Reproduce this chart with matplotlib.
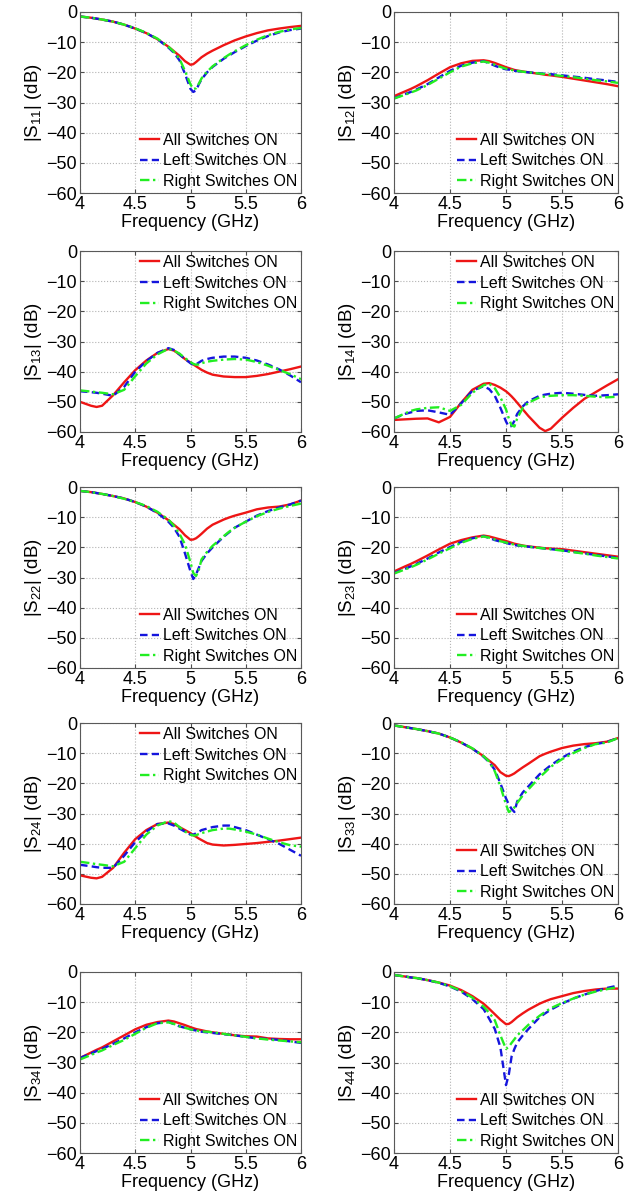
import matplotlib
matplotlib.use('Agg')
import matplotlib.pyplot as plt

plt.rcParams['font.family'] = ['Liberation Sans', 'DejaVu Sans']
plt.rcParams['mathtext.fontset'] = 'custom'
plt.rcParams['mathtext.rm'] = 'Liberation Sans'
plt.rcParams['mathtext.it'] = 'Liberation Sans'
plt.rcParams['mathtext.default'] = 'regular'

# frequency points (GHz) shared by every curve
freq = [4.0, 4.1, 4.15, 4.2, 4.3, 4.4, 4.5, 4.6, 4.7, 4.8, 4.85, 4.9, 4.95, 5.0, 5.025,
        5.05, 5.075, 5.1, 5.15, 5.2, 5.3, 5.35, 5.4, 5.5, 5.6, 5.7, 5.8, 5.9, 6.0]

s11_all = [-1.5, -1.9, -2.2, -2.5, -3.2, -4.2, -5.5, -7.0, -9.0, -11.5, -13.0, -14.5, -16.3, -17.5, -17.3,
           -16.6, -15.8, -15.0, -13.8, -12.8, -11.0, -10.2, -9.4, -8.1, -7.0, -6.1, -5.5, -5.0, -4.6]
s11_left = [-1.5, -1.9, -2.2, -2.5, -3.2, -4.2, -5.5, -7.0, -9.0, -11.8, -13.5, -16.0, -20.5, -25.5, -26.5,
            -26.0, -24.0, -22.3, -20.0, -18.2, -15.5, -14.4, -13.3, -11.3, -9.5, -8.0, -6.8, -6.0, -5.5]
s11_right = [-1.5, -1.9, -2.2, -2.5, -3.2, -4.2, -5.4, -6.9, -8.8, -11.5, -13.2, -15.5, -19.5, -24.0, -25.5,
             -25.3, -23.8, -22.0, -19.8, -18.0, -15.3, -14.1, -13.0, -11.0, -9.2, -7.7, -6.6, -5.8, -5.3]

s12_all = [-27.9, -26.3, -25.5, -24.6, -22.6, -20.4, -18.3, -17.0, -16.2, -16.0, -16.3, -16.9, -17.6, -18.3, -18.6,
           -18.9, -19.2, -19.4, -19.7, -20.0, -20.5, -20.8, -21.0, -21.5, -22.1, -22.7, -23.3, -23.9, -24.6]
s12_left = [-28.6, -27.2, -26.5, -25.7, -23.9, -21.7, -19.5, -17.8, -16.8, -16.3, -17.0, -17.8, -18.5, -19.0, -19.1,
            -19.3, -19.5, -19.6, -19.8, -20.0, -20.3, -20.5, -20.6, -21.0, -21.4, -21.8, -22.3, -22.7, -23.2]
s12_right = [-28.7, -27.4, -26.7, -26.0, -24.2, -22.1, -20.0, -18.1, -17.0, -16.4, -16.8, -17.5, -18.2, -18.8, -19.0,
             -19.2, -19.4, -19.5, -19.8, -20.0, -20.4, -20.6, -20.8, -21.2, -21.6, -22.1, -22.6, -23.0, -23.5]

s13_all = [-50.0, -51.3, -51.7, -51.3, -47.8, -43.5, -39.5, -36.3, -33.8, -32.5, -33.0, -34.3, -35.8, -37.0, -37.6,
           -38.2, -38.8, -39.4, -40.3, -41.0, -41.6, -41.7, -41.8, -41.8, -41.4, -40.8, -40.0, -39.2, -38.3]
s13_left = [-46.5, -46.8, -47.0, -47.3, -48.0, -45.0, -40.0, -36.5, -33.8, -32.2, -32.8, -34.3, -35.8, -37.2, -37.8,
            -37.6, -37.0, -36.4, -35.8, -35.4, -35.0, -35.0, -35.0, -35.4, -36.3, -37.6, -39.2, -41.2, -43.5]
s13_right = [-46.2, -46.6, -46.8, -47.0, -47.5, -46.0, -41.5, -37.3, -34.3, -32.4, -33.0, -34.0, -35.5, -36.8, -37.4,
             -37.7, -37.6, -37.2, -36.7, -36.4, -36.0, -35.9, -35.8, -36.0, -36.8, -38.0, -39.4, -40.8, -42.5]

s14_all = [-56.0, -55.8, -55.7, -55.6, -55.5, -56.8, -55.0, -50.3, -46.0, -44.0, -43.8, -44.4, -45.3, -46.5, -47.3,
           -48.2, -49.2, -50.3, -52.5, -54.7, -58.6, -59.7, -58.9, -55.3, -52.0, -49.0, -46.8, -44.6, -42.5]
s14_left = [-55.5, -54.0, -53.5, -53.0, -52.8, -53.5, -54.3, -50.5, -46.3, -44.8, -45.8, -48.0, -52.0, -56.5, -58.3,
            -58.0, -56.3, -54.0, -51.5, -49.8, -48.0, -47.6, -47.3, -47.0, -47.3, -47.7, -48.0, -47.8, -47.5]
s14_right = [-55.5, -53.8, -53.0, -52.5, -52.0, -51.8, -53.0, -51.0, -47.0, -44.5, -44.0, -45.5, -48.5, -52.5, -55.5,
             -57.8, -58.2, -55.5, -52.0, -50.3, -48.5, -48.2, -48.0, -47.8, -47.8, -48.0, -48.3, -48.5, -48.3]

s22_all = [-1.3, -1.7, -2.0, -2.3, -3.0, -3.8, -5.0, -6.5, -8.5, -11.0, -12.5, -14.0, -16.0, -17.5, -17.4,
           -17.0, -16.3, -15.5, -13.8, -12.5, -10.8, -10.1, -9.5, -8.5, -7.4, -6.8, -6.5, -5.8, -4.5]
s22_left = [-1.3, -1.7, -2.0, -2.3, -3.0, -3.8, -5.0, -6.5, -8.6, -11.5, -13.5, -16.5, -22.0, -28.0, -30.5,
            -29.0, -26.8, -24.5, -22.0, -20.0, -16.5, -15.0, -13.5, -11.5, -9.5, -8.0, -6.8, -5.8, -4.5]
s22_right = [-1.3, -1.7, -2.0, -2.3, -3.0, -3.9, -5.0, -6.3, -8.2, -10.8, -12.8, -15.5, -19.0, -25.0, -28.5,
             -29.5, -27.5, -24.0, -21.5, -19.5, -16.3, -14.8, -13.5, -11.5, -9.7, -8.3, -7.2, -6.3, -5.5]

s23_all = [-28.0, -26.3, -25.5, -24.6, -22.7, -20.7, -18.8, -17.6, -16.7, -16.1, -16.4, -16.9, -17.4, -17.9, -18.2,
           -18.5, -18.8, -19.0, -19.4, -19.7, -20.1, -20.3, -20.4, -20.6, -21.1, -21.6, -22.1, -22.6, -23.1]
s23_left = [-28.5, -27.1, -26.3, -25.5, -23.7, -21.7, -19.9, -18.2, -17.0, -16.3, -16.9, -17.6, -18.1, -18.5, -18.8,
            -19.0, -19.2, -19.4, -19.6, -19.8, -20.2, -20.4, -20.6, -21.0, -21.5, -22.0, -22.5, -23.0, -23.5]
s23_right = [-28.7, -27.3, -26.6, -25.8, -24.0, -22.1, -20.3, -18.5, -17.2, -16.4, -16.8, -17.4, -18.0, -18.4, -18.7,
             -18.9, -19.1, -19.3, -19.5, -19.8, -20.2, -20.4, -20.6, -21.1, -21.6, -22.1, -22.7, -23.2, -23.7]

s24_all = [-50.5, -51.3, -51.5, -51.0, -48.0, -43.0, -38.5, -35.5, -33.5, -33.0, -33.5, -34.5, -35.5, -36.5, -37.2,
           -37.7, -38.3, -38.8, -39.8, -40.3, -40.6, -40.5, -40.4, -40.1, -39.8, -39.4, -39.0, -38.5, -38.0]
s24_left = [-47.0, -47.5, -47.8, -48.0, -48.0, -44.0, -39.5, -36.0, -33.5, -33.3, -34.0, -35.0, -36.0, -37.0, -37.0,
            -36.6, -36.1, -35.5, -35.0, -34.5, -34.0, -34.0, -34.5, -35.5, -37.0, -38.5, -40.0, -42.0, -44.0]
s24_right = [-46.0, -46.5, -46.8, -47.0, -47.5, -46.0, -41.5, -37.0, -34.0, -32.5, -33.0, -34.5, -36.0, -37.0, -37.3,
             -37.2, -36.8, -36.5, -36.0, -35.5, -35.0, -35.0, -35.3, -36.0, -37.0, -38.3, -39.5, -40.5, -41.0]

s33_all = [-0.8, -1.4, -1.7, -2.0, -2.7, -3.5, -4.8, -6.5, -8.5, -11.0, -12.5, -14.0, -16.3, -17.5, -17.6,
           -17.2, -16.7, -16.0, -14.7, -13.5, -11.0, -10.2, -9.5, -8.3, -7.5, -7.0, -6.7, -6.2, -5.0]
s33_left = [-0.8, -1.4, -1.7, -2.0, -2.7, -3.5, -4.8, -6.5, -8.5, -11.2, -13.0, -15.5, -20.0, -25.0, -27.0,
            -28.5, -29.5, -26.0, -23.0, -21.0, -17.0, -15.5, -14.0, -11.5, -9.5, -8.0, -7.0, -6.3, -5.0]
s33_right = [-0.8, -1.4, -1.7, -2.0, -2.7, -3.5, -4.8, -6.4, -8.4, -11.0, -12.8, -16.0, -21.0, -27.0, -29.5,
             -29.0, -28.0, -26.5, -24.0, -22.0, -18.0, -16.3, -14.5, -12.0, -10.0, -8.3, -7.0, -6.5, -5.0]

s34_all = [-28.5, -26.7, -25.8, -25.0, -23.0, -21.0, -19.0, -17.5, -16.6, -16.1, -16.4, -17.0, -17.6, -18.3, -18.6,
           -18.9, -19.1, -19.3, -19.7, -20.0, -20.5, -20.7, -21.0, -21.3, -21.4, -22.0, -22.2, -22.3, -22.3]
s34_left = [-28.5, -27.0, -26.2, -25.5, -23.8, -22.0, -20.0, -18.3, -17.0, -16.5, -17.3, -18.0, -18.5, -19.0, -19.2,
            -19.4, -19.6, -19.8, -20.0, -20.2, -20.6, -20.8, -21.0, -21.5, -22.0, -22.2, -22.5, -23.0, -23.5]
s34_right = [-29.0, -27.5, -26.7, -26.0, -24.2, -22.5, -20.5, -18.5, -17.0, -16.7, -17.2, -18.0, -18.5, -19.0, -19.2,
             -19.4, -19.5, -19.7, -19.8, -20.0, -20.5, -20.8, -21.0, -21.5, -22.0, -22.4, -22.7, -23.0, -23.3]

s44_all = [-1.0, -1.5, -1.8, -2.0, -2.7, -3.5, -4.5, -6.0, -8.0, -10.5, -12.2, -14.0, -15.8, -17.3, -17.2,
           -16.6, -15.8, -15.0, -13.7, -12.5, -10.5, -9.7, -9.0, -8.0, -7.0, -6.3, -5.8, -5.5, -5.5]
s44_left = [-1.0, -1.5, -1.8, -2.0, -2.7, -3.6, -4.8, -6.5, -9.0, -12.3, -15.5, -18.9, -25.0, -37.5, -34.0,
            -28.0, -25.5, -23.4, -21.0, -18.9, -15.0, -13.7, -12.5, -10.5, -8.8, -7.5, -6.3, -5.3, -4.5]
s44_right = [-1.0, -1.5, -1.8, -2.0, -2.7, -3.5, -4.7, -6.3, -8.5, -11.5, -13.5, -16.0, -21.0, -25.5, -24.8,
             -23.5, -22.3, -21.0, -19.3, -17.5, -14.5, -13.2, -12.0, -10.3, -8.8, -7.5, -6.5, -5.7, -5.0]

labels = ['All Switches ON', 'Left Switches ON', 'Right Switches ON']
xticks = [4, 4.5, 5, 5.5, 6]
xticklabels = ['4', '4.5', '5', '5.5', '6']
yticks = [-60, -50, -40, -30, -20, -10, 0]

# (name, curves, legend location), ordered row by row
panels = [
    ('11', (s11_all, s11_left, s11_right), 'lower right'),
    ('12', (s12_all, s12_left, s12_right), 'lower right'),
    ('13', (s13_all, s13_left, s13_right), 'upper right'),
    ('14', (s14_all, s14_left, s14_right), 'upper right'),
    ('22', (s22_all, s22_left, s22_right), 'lower right'),
    ('23', (s23_all, s23_left, s23_right), 'lower right'),
    ('24', (s24_all, s24_left, s24_right), 'upper right'),
    ('33', (s33_all, s33_left, s33_right), 'lower right'),
    ('34', (s34_all, s34_left, s34_right), 'lower right'),
    ('44', (s44_all, s44_left, s44_right), 'lower right'),
]

styles = [
    dict(color='#ee1515', linestyle='-'),
    dict(color='#1515dd', linestyle=(0, (3.2, 1.8))),
    dict(color='#22ee22', linestyle=(0, (4, 1.5, 1, 1.5))),
]

W, H = 641, 1195
fig = plt.figure(figsize=(W / 100, H / 100), dpi=100)

col_left = [80, 394]
col_width = [221, 224]
row_top = [12, 251, 487, 723, 972]
ax_h = 181

for i, (name, curves, loc) in enumerate(panels):
    r, c = divmod(i, 2)
    ax = fig.add_axes([col_left[c] / W, (H - row_top[r] - ax_h) / H, col_width[c] / W, ax_h / H])
    for vals, lab, st in zip(curves, labels, styles):
        ax.plot(freq, vals, lw=1.7, label=lab, **st)
    ax.set_xlim(4, 6)
    ax.set_ylim(-60, 0)
    ax.set_xticks(xticks)
    ax.set_xticklabels(xticklabels)
    ax.set_yticks(yticks)
    ax.grid(True, linestyle=':', color='0.7', linewidth=0.8)
    ax.tick_params(direction='in', length=3, labelsize=13, pad=2, top=True, right=True, color='0.3')
    for sp in ax.spines.values():
        sp.set_color('0.35')
        sp.set_linewidth(0.8)
    ax.set_xlabel('Frequency (GHz)', fontsize=13, labelpad=1)
    ax.set_ylabel('|S$_{' + name + '}$| (dB)', fontsize=13.5, labelpad=2)
    ax.legend(loc=loc, frameon=False, fontsize=11.5, handlelength=1.2, handletextpad=0.25,
              labelspacing=0.35, borderpad=0.1, borderaxespad=0.15)

fig.savefig('out.png', dpi=100)
